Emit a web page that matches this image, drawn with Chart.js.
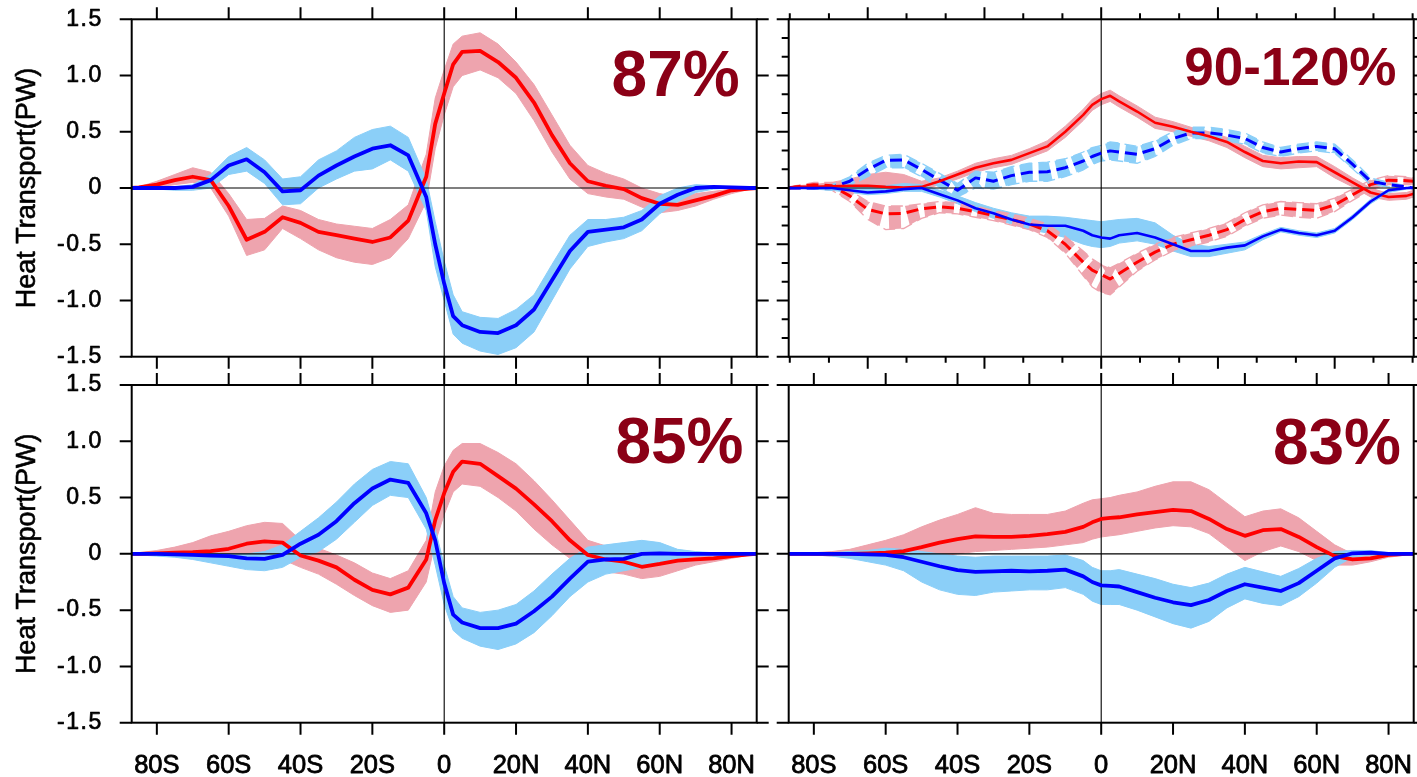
<!DOCTYPE html>
<html>
<head>
<meta charset="utf-8">
<title>Heat Transport</title>
<script src="https://cdn.jsdelivr.net/npm/chart.js@4.4.1/dist/chart.umd.min.js"></script>
<style>
  html, body { margin: 0; padding: 0; background: #fff; }
  #fig { position: relative; width: 1417px; height: 777px; background: #fff; overflow: hidden; }
  #fig canvas { position: absolute; left: 0; top: 0; }
</style>
</head>
<body>
<div id="fig">
  <canvas id="panelA" width="1417" height="777"></canvas>
  <canvas id="panelB" width="1417" height="777"></canvas>
  <canvas id="panelC" width="1417" height="777"></canvas>
  <canvas id="panelD" width="1417" height="777"></canvas>
</div>
<script>
// Latitude grid (degrees; negative = south)
const LAT = [-87,-85,-80,-75,-70,-65,-60,-55,-50,-45,-40,-35,-30,-25,-20,-15,-10,-5,-2.5,0,2.5,5,10,15,20,25,30,35,40,45,50,55,60,65,70,75,80,85,87];

// Axis ticks and labels
const X_TICKS  = [-80,-60,-40,-20,0,20,40,60,80];
const X_LABELS = ['80S','60S','40S','20S','0','20N','40N','60N','80N'];
const Y_TICKS  = [-1.5,-1,-0.5,0,0.5,1,1.5];
const Y_LABELS = ['-1.5','-1.0','-0.5','0','0.5','1.0','1.5'];
const B_X_MAJOR = [-65,-32.5,0,32.5,65];
const B_X_MINOR = [-86.7,-75.8,-54.2,-43.3,-21.7,-10.8,10.8,21.7,43.3,54.2,75.8,86.7];
const B_Y_MINOR = [-1.333,-1.167,-0.833,-0.667,-0.333,-0.167,0.167,0.333,0.667,0.833,1.167,1.333];
const PANEL_TITLES = ['87%','90-120%','85%','83%'];
const Y_TITLE = 'Heat Transport(PW)';

// Panel A (top left): ensemble mean and member spread
const A_RED     = [0,0.005,0.03,0.07,0.10,0.07,-0.16,-0.46,-0.39,-0.26,-0.31,-0.39,-0.42,-0.45,-0.48,-0.44,-0.29,0.1,0.57,0.84,1.10,1.21,1.22,1.12,0.98,0.76,0.47,0.22,0.06,0.02,-0.01,-0.09,-0.14,-0.15,-0.11,-0.07,-0.02,-0.005,0];
const A_RED_LO  = [0,0,0.01,0.03,0.05,0.0,-0.25,-0.60,-0.55,-0.36,-0.45,-0.55,-0.62,-0.66,-0.68,-0.62,-0.45,-0.12,0.35,0.65,0.9,1.0,1.05,0.98,0.84,0.6,0.32,0.08,-0.05,-0.08,-0.1,-0.17,-0.22,-0.2,-0.16,-0.1,-0.05,-0.01,0];
const A_RED_HI  = [0,0.01,0.06,0.12,0.18,0.14,-0.05,-0.28,-0.27,-0.16,-0.20,-0.28,-0.32,-0.34,-0.36,-0.28,-0.15,0.3,0.8,1.05,1.28,1.35,1.38,1.28,1.12,0.92,0.65,0.38,0.2,0.13,0.08,0.0,-0.05,-0.08,-0.05,-0.03,-0.01,0,0];
const A_BLUE    = [0,0,0,0,0.01,0.07,0.2,0.255,0.14,-0.03,-0.02,0.11,0.20,0.28,0.35,0.38,0.29,-0.08,-0.5,-0.85,-1.14,-1.22,-1.28,-1.29,-1.22,-1.08,-0.82,-0.56,-0.39,-0.37,-0.35,-0.28,-0.14,-0.06,0.0,0.01,0.005,0,0];
const A_BLUE_LO = [0,0,-0.01,-0.02,-0.02,0.0,0.12,0.15,0.04,-0.15,-0.14,0.0,0.08,0.15,0.17,0.25,0.15,-0.2,-0.7,-1.0,-1.3,-1.38,-1.45,-1.48,-1.42,-1.28,-1.0,-0.72,-0.52,-0.48,-0.45,-0.38,-0.23,-0.12,-0.04,-0.01,0,0,0];
const A_BLUE_HI = [0,0,0.01,0.01,0.03,0.12,0.28,0.36,0.25,0.08,0.1,0.25,0.33,0.45,0.52,0.55,0.45,0.08,-0.3,-0.65,-0.95,-1.1,-1.15,-1.16,-1.08,-0.95,-0.68,-0.42,-0.28,-0.28,-0.26,-0.2,-0.07,0.0,0.03,0.02,0.01,0,0];

// Panel B (top right): solid and dashed pairs
const B_RED       = [0,0.01,0.01,0.015,0.02,0.02,0.01,0.005,0.01,0.06,0.12,0.18,0.22,0.25,0.31,0.37,0.50,0.65,0.74,0.79,0.82,0.77,0.68,0.58,0.545,0.50,0.46,0.41,0.32,0.24,0.22,0.235,0.23,0.14,0.05,-0.04,-0.08,-0.07,-0.05];
const B_RED_LO    = [0,0,-0.01,-0.01,-0.01,-0.01,-0.02,-0.02,-0.02,0.03,0.08,0.14,0.18,0.21,0.27,0.33,0.45,0.60,0.69,0.74,0.77,0.72,0.63,0.53,0.50,0.46,0.42,0.36,0.27,0.19,0.17,0.18,0.19,0.09,0.01,-0.08,-0.11,-0.10,-0.08];
const B_RED_HI    = [0.01,0.02,0.03,0.05,0.08,0.12,0.14,0.12,0.06,0.09,0.15,0.22,0.26,0.29,0.35,0.42,0.55,0.70,0.79,0.84,0.87,0.82,0.73,0.63,0.59,0.54,0.50,0.45,0.37,0.29,0.27,0.28,0.28,0.19,0.09,0.0,-0.05,-0.04,-0.02];
const B_BLUE      = [0,0,0,0,-0.02,-0.04,-0.03,-0.01,0.0,-0.055,-0.11,-0.18,-0.225,-0.28,-0.325,-0.335,-0.335,-0.38,-0.42,-0.44,-0.45,-0.42,-0.40,-0.44,-0.50,-0.56,-0.56,-0.53,-0.51,-0.43,-0.37,-0.40,-0.42,-0.38,-0.26,-0.12,-0.02,0,0];
const B_BLUE_LO   = [0,0,-0.01,-0.02,-0.04,-0.06,-0.05,-0.03,-0.03,-0.08,-0.14,-0.21,-0.27,-0.32,-0.37,-0.40,-0.44,-0.50,-0.52,-0.53,-0.52,-0.49,-0.47,-0.50,-0.56,-0.61,-0.61,-0.58,-0.55,-0.46,-0.39,-0.42,-0.44,-0.40,-0.28,-0.14,-0.04,-0.01,0];
const B_BLUE_HI   = [0,0.005,0.01,0.01,0.0,0.0,0.02,0.04,0.03,-0.02,-0.07,-0.13,-0.18,-0.22,-0.25,-0.25,-0.26,-0.28,-0.29,-0.30,-0.29,-0.28,-0.27,-0.31,-0.42,-0.50,-0.52,-0.50,-0.48,-0.41,-0.35,-0.38,-0.40,-0.36,-0.24,-0.10,-0.01,0,0];
const B_BLUE_D    = [0,0,0,0.005,0.06,0.165,0.245,0.25,0.165,0.07,-0.02,0.09,0.06,0.11,0.14,0.145,0.18,0.24,0.28,0.31,0.33,0.32,0.30,0.35,0.44,0.49,0.49,0.47,0.44,0.36,0.32,0.35,0.37,0.35,0.21,0.06,0.03,0.01,0];
const B_BLUE_D_LO = [0,0,-0.01,-0.02,0.02,0.10,0.18,0.18,0.10,0.0,-0.08,0.0,-0.01,0.03,0.06,0.06,0.1,0.16,0.21,0.24,0.25,0.24,0.22,0.28,0.38,0.44,0.44,0.42,0.39,0.31,0.28,0.31,0.33,0.31,0.17,0.03,0.01,0,0];
const B_BLUE_D_HI = [0,0.01,0.02,0.03,0.10,0.22,0.29,0.30,0.22,0.13,0.04,0.15,0.14,0.19,0.22,0.23,0.26,0.32,0.36,0.38,0.41,0.40,0.37,0.42,0.50,0.54,0.54,0.52,0.49,0.41,0.36,0.39,0.41,0.39,0.25,0.09,0.05,0.02,0];
const B_RED_D     = [0,0.01,0.03,0.02,-0.07,-0.19,-0.23,-0.225,-0.185,-0.167,-0.18,-0.21,-0.245,-0.28,-0.32,-0.38,-0.50,-0.66,-0.73,-0.77,-0.81,-0.76,-0.66,-0.57,-0.50,-0.46,-0.42,-0.37,-0.28,-0.21,-0.18,-0.19,-0.20,-0.15,-0.06,0.03,0.07,0.065,0.06];
const B_RED_D_LO  = [-0.01,-0.01,0.0,-0.02,-0.12,-0.28,-0.37,-0.36,-0.27,-0.22,-0.23,-0.26,-0.29,-0.33,-0.37,-0.44,-0.58,-0.78,-0.88,-0.93,-0.95,-0.88,-0.74,-0.64,-0.56,-0.52,-0.48,-0.43,-0.34,-0.27,-0.24,-0.26,-0.27,-0.21,-0.11,-0.02,0.03,0.03,0.03];
const B_RED_D_HI  = [0.01,0.02,0.05,0.05,-0.02,-0.12,-0.16,-0.16,-0.14,-0.12,-0.13,-0.16,-0.20,-0.23,-0.27,-0.32,-0.43,-0.56,-0.63,-0.68,-0.71,-0.67,-0.58,-0.50,-0.44,-0.40,-0.36,-0.31,-0.22,-0.15,-0.12,-0.13,-0.14,-0.09,-0.01,0.07,0.11,0.10,0.09];

// Panel C (bottom left)
const C_RED     = [0,0,0.005,0.01,0.015,0.025,0.045,0.09,0.11,0.10,-0.015,-0.06,-0.12,-0.23,-0.32,-0.36,-0.30,-0.05,0.30,0.54,0.73,0.82,0.80,0.69,0.58,0.44,0.29,0.12,-0.01,-0.05,-0.07,-0.115,-0.09,-0.06,-0.05,-0.04,-0.02,-0.005,0];
const C_RED_LO  = [0,0,-0.01,-0.01,-0.02,-0.02,-0.01,0.0,0.02,-0.05,-0.12,-0.18,-0.27,-0.37,-0.46,-0.52,-0.50,-0.25,0.1,0.35,0.55,0.62,0.6,0.5,0.38,0.22,0.08,-0.04,-0.13,-0.16,-0.18,-0.22,-0.2,-0.15,-0.1,-0.07,-0.04,-0.01,0];
const C_RED_HI  = [0,0.01,0.03,0.06,0.1,0.16,0.2,0.25,0.28,0.27,0.12,0.05,-0.01,-0.08,-0.17,-0.22,-0.15,0.12,0.55,0.78,0.92,0.98,0.98,0.9,0.8,0.65,0.48,0.3,0.12,0.07,0.05,0.0,-0.01,-0.01,-0.01,-0.01,0.0,0,0];
const C_BLUE    = [0,0,0,-0.005,-0.01,-0.015,-0.02,-0.04,-0.045,-0.01,0.09,0.17,0.29,0.45,0.58,0.66,0.63,0.36,0.12,-0.26,-0.54,-0.61,-0.66,-0.66,-0.62,-0.51,-0.38,-0.22,-0.07,-0.05,-0.045,0.0,0.005,0,0,0,0,0,0];
const C_BLUE_LO = [0,-0.01,-0.02,-0.03,-0.05,-0.08,-0.11,-0.14,-0.15,-0.12,-0.03,0.02,0.13,0.28,0.43,0.52,0.5,0.22,-0.1,-0.45,-0.68,-0.75,-0.82,-0.85,-0.8,-0.7,-0.55,-0.38,-0.25,-0.18,-0.15,-0.12,-0.08,-0.04,-0.02,-0.01,0,0,0];
const C_BLUE_HI = [0,0,0.0,0.01,0.01,0.01,0.0,0.0,0.02,0.08,0.2,0.32,0.46,0.62,0.75,0.82,0.8,0.5,0.22,-0.1,-0.38,-0.48,-0.52,-0.5,-0.45,-0.33,-0.18,-0.04,0.06,0.08,0.1,0.12,0.1,0.04,0.02,0.01,0,0,0];

// Panel D (bottom right)
const D_RED     = [0,0,0,0,0,0.005,0.01,0.025,0.06,0.10,0.13,0.155,0.15,0.15,0.16,0.175,0.195,0.24,0.28,0.31,0.32,0.325,0.35,0.37,0.39,0.38,0.31,0.22,0.16,0.21,0.22,0.15,0.06,-0.02,-0.05,-0.04,-0.01,0,0];
const D_RED_LO  = [0,0,-0.01,-0.02,-0.03,-0.05,-0.07,-0.08,-0.05,-0.02,0.0,0.02,0.03,0.04,0.05,0.06,0.08,0.1,0.13,0.15,0.16,0.17,0.2,0.23,0.25,0.24,0.18,0.06,-0.06,0.02,0.07,0.02,-0.06,-0.1,-0.1,-0.07,-0.03,-0.01,0];
const D_RED_HI  = [0,0.005,0.01,0.02,0.04,0.08,0.12,0.17,0.24,0.3,0.35,0.41,0.36,0.35,0.35,0.35,0.38,0.45,0.48,0.49,0.5,0.52,0.55,0.6,0.64,0.64,0.57,0.45,0.33,0.38,0.4,0.32,0.2,0.08,0.0,0.0,0.0,0,0];
const D_BLUE    = [0,0,0,0,0,-0.005,-0.01,-0.03,-0.07,-0.11,-0.145,-0.16,-0.155,-0.15,-0.155,-0.15,-0.14,-0.2,-0.25,-0.28,-0.285,-0.29,-0.34,-0.39,-0.43,-0.455,-0.41,-0.33,-0.27,-0.30,-0.33,-0.26,-0.15,-0.04,0.005,0.01,0.0,0,0];
const D_BLUE_LO = [0,0,-0.01,-0.02,-0.04,-0.07,-0.1,-0.15,-0.25,-0.32,-0.36,-0.37,-0.34,-0.33,-0.32,-0.32,-0.3,-0.36,-0.42,-0.45,-0.45,-0.45,-0.5,-0.56,-0.62,-0.66,-0.6,-0.48,-0.4,-0.44,-0.46,-0.38,-0.26,-0.12,-0.03,-0.01,-0.01,0,0];
const D_BLUE_HI = [0,0,0.005,0.01,0.02,0.03,0.05,0.04,0.02,0.0,-0.02,-0.03,-0.02,-0.02,-0.02,-0.02,-0.01,-0.06,-0.12,-0.15,-0.15,-0.14,-0.18,-0.22,-0.27,-0.3,-0.26,-0.18,-0.12,-0.16,-0.2,-0.13,-0.04,0.02,0.03,0.03,0.01,0,0];

// Colours
const RED = '#ff0000', BLUE = '#0000ff';
const PINK = '#eea4ae', SKY = '#8bcff8';
const TITLE_RED = '#8b0016';
const DASH = [12, 6];

const pts = vals => LAT.map((lat, i) => ({ x: lat, y: vals[i] }));

function line(vals, color, width, dash) {
  return { data: pts(vals), borderColor: color, borderWidth: width, borderDash: dash || [],
           pointRadius: 0, tension: 0, fill: false, borderJoinStyle: 'round' };
}
function band(lo, hi, color) {
  return [
    { data: pts(lo), borderColor: color, borderWidth: 1, pointRadius: 0, tension: 0, fill: false },
    { data: pts(hi), borderColor: color, borderWidth: 1, pointRadius: 0, tension: 0, fill: '-1', backgroundColor: color }
  ];
}
function dashedBand(lo, mid, hi, color) {
  return [
    { data: pts(lo), borderColor: color, borderWidth: 1.3, borderDash: DASH, pointRadius: 0, tension: 0, fill: false },
    { data: pts(hi), borderColor: color, borderWidth: 1.3, borderDash: DASH, pointRadius: 0, tension: 0, fill: false,
      dashBand: { lo: lo, mid: mid, color: color } }
  ];
}

// Text with a hairline outline so it reads a little heavier
function heavyText(ctx, text, x, y, weight) {
  ctx.lineWidth = weight;
  ctx.strokeStyle = ctx.fillStyle;
  ctx.lineJoin = 'round';
  ctx.strokeText(text, x, y);
  ctx.fillText(text, x, y);
}

// Frame, ticks, labels and zero lines for one panel
function framePlugin(cfg) {
  return {
    id: 'frame',
    beforeDatasetDraw(chart, args) {
      const ds = chart.data.datasets[args.index];
      const { ctx, chartArea: a, scales: { x, y } } = chart;
      if (ds.dashBand) {
        // dashed ensemble members: a band cut into dashes that follow the mean curve
        const b = ds.dashBand, hi = ds.data;
        ctx.save();
        ctx.beginPath();
        ctx.rect(a.left, a.top, a.width, a.height);
        ctx.clip();
        ctx.beginPath();
        hi.forEach((p, i) => {
          const px = x.getPixelForValue(p.x), py = y.getPixelForValue(p.y);
          i ? ctx.lineTo(px, py) : ctx.moveTo(px, py);
        });
        for (let i = LAT.length - 1; i >= 0; i--) {
          ctx.lineTo(x.getPixelForValue(LAT[i]), y.getPixelForValue(b.lo[i]));
        }
        ctx.closePath();
        ctx.clip();
        ctx.beginPath();
        LAT.forEach((lat, i) => {
          const px = x.getPixelForValue(lat), py = y.getPixelForValue(b.mid[i]);
          i ? ctx.lineTo(px, py) : ctx.moveTo(px, py);
        });
        ctx.lineWidth = 90;
        ctx.lineCap = 'butt';
        ctx.lineJoin = 'round';
        ctx.setLineDash(DASH);
        ctx.strokeStyle = b.color;
        ctx.stroke();
        ctx.restore();
      }
      if (args.index === cfg.zeroBelow) {
        const y0 = y.getPixelForValue(0), x0 = x.getPixelForValue(0);
        ctx.save();
        ctx.strokeStyle = '#000';
        ctx.lineWidth = 1.1;
        ctx.beginPath();
        ctx.moveTo(a.left, y0); ctx.lineTo(a.right, y0);
        ctx.moveTo(x0, a.top); ctx.lineTo(x0, a.bottom);
        ctx.stroke();
        ctx.restore();
      }
    },
    afterDraw(chart) {
      const { ctx, chartArea: a, scales: { x, y } } = chart;
      ctx.save();
      ctx.strokeStyle = '#000';
      ctx.lineWidth = 2;
      ctx.setLineDash([]);
      ctx.strokeRect(a.left, a.top, a.width, a.height);

      const tickX = (vals, len) => vals.forEach(v => {
        const px = x.getPixelForValue(v);
        ctx.moveTo(px, a.top); ctx.lineTo(px, a.top - len);
        ctx.moveTo(px, a.bottom); ctx.lineTo(px, a.bottom + len);
      });
      const tickY = (vals, len) => vals.forEach(v => {
        const py = y.getPixelForValue(v);
        ctx.moveTo(a.left, py); ctx.lineTo(a.left - len, py);
        ctx.moveTo(a.right, py); ctx.lineTo(a.right + len, py);
      });
      ctx.beginPath();
      tickX(cfg.xMajor, 12);
      tickY(Y_TICKS, 12);
      if (cfg.xMinor) tickX(cfg.xMinor, 6);
      if (cfg.yMinor) tickY(cfg.yMinor, 7);
      ctx.stroke();

      ctx.fillStyle = '#000';
      if (cfg.yLabels) {
        ctx.font = '23px "Liberation Sans", Arial, sans-serif';
        ctx.letterSpacing = '1.5px';
        ctx.textAlign = 'right';
        ctx.textBaseline = 'middle';
        Y_TICKS.forEach((v, i) => heavyText(ctx, Y_LABELS[i], a.left - 29, y.getPixelForValue(v), 0.7));
        ctx.letterSpacing = '0px';
        ctx.save();
        ctx.translate(35, (a.top + a.bottom) / 2);
        ctx.rotate(-Math.PI / 2);
        ctx.font = '27px "Liberation Sans", Arial, sans-serif';
        ctx.textAlign = 'center';
        ctx.textBaseline = 'alphabetic';
        heavyText(ctx, Y_TITLE, 0, 0, 0.6);
        ctx.restore();
      }
      if (cfg.xLabels) {
        ctx.font = '25.5px "Liberation Sans", Arial, sans-serif';
        ctx.textAlign = 'center';
        ctx.textBaseline = 'alphabetic';
        X_TICKS.forEach((v, i) => heavyText(ctx, X_LABELS[i], x.getPixelForValue(v), a.bottom + 50.6, 0.8));
      }
      ctx.font = 'bold ' + cfg.titleSize + 'px "Liberation Sans", Arial, sans-serif';
      ctx.fillStyle = TITLE_RED;
      ctx.textAlign = 'right';
      ctx.textBaseline = 'alphabetic';
      ctx.fillText(cfg.title, a.right - cfg.titleInset, a.top + cfg.titleDrop);
      ctx.restore();
    }
  };
}

function makePanel(id, datasets, area, cfg) {
  return new Chart(document.getElementById(id), {
    type: 'line',
    data: { datasets: datasets },
    options: {
      responsive: false,
      animation: false,
      events: [],
      layout: { padding: { left: area.left, top: area.top, right: 1417 - area.right, bottom: 777 - area.bottom } },
      scales: {
        x: { type: 'linear', min: -87, max: 87, display: false },
        y: { type: 'linear', min: -1.5, max: 1.5, display: false }
      },
      plugins: { legend: { display: false }, tooltip: { enabled: false } }
    },
    plugins: [framePlugin(cfg)]
  });
}

const LEFT = { left: 131.7, right: 756.7 }, RIGHT = { left: 788.7, right: 1413.7 };
const TOP = { top: 19.3, bottom: 356.7 }, BOTTOM = { top: 385, bottom: 722.7 };

makePanel('panelA', [
  line(A_BLUE, BLUE, 3.8), line(A_RED, RED, 3.8),
  ...band(A_BLUE_LO, A_BLUE_HI, SKY), ...band(A_RED_LO, A_RED_HI, PINK)
], { ...LEFT, ...TOP }, { zeroBelow: 1, xMajor: X_TICKS, yLabels: true, title: PANEL_TITLES[0], titleSize: 64, titleInset: 17, titleDrop: 76.7 });

makePanel('panelB', [
  line(B_BLUE, BLUE, 2.6), line(B_RED, RED, 2.6), line(B_BLUE_D, BLUE, 3, DASH), line(B_RED_D, RED, 3, DASH),
  ...dashedBand(B_BLUE_D_LO, B_BLUE_D, B_BLUE_D_HI, SKY), ...dashedBand(B_RED_D_LO, B_RED_D, B_RED_D_HI, PINK),
  ...band(B_BLUE_LO, B_BLUE_HI, SKY), ...band(B_RED_LO, B_RED_HI, PINK)
], { ...RIGHT, ...TOP }, { zeroBelow: 3, xMajor: B_X_MAJOR, xMinor: B_X_MINOR, yMinor: B_Y_MINOR, title: PANEL_TITLES[1], titleSize: 53, titleInset: 17.2, titleDrop: 65.7 });

makePanel('panelC', [
  line(C_BLUE, BLUE, 3.8), line(C_RED, RED, 3.8),
  ...band(C_BLUE_LO, C_BLUE_HI, SKY), ...band(C_RED_LO, C_RED_HI, PINK)
], { ...LEFT, ...BOTTOM }, { zeroBelow: 1, xMajor: X_TICKS, yLabels: true, xLabels: true, title: PANEL_TITLES[2], titleSize: 64, titleInset: 13.2, titleDrop: 78.3 });

makePanel('panelD', [
  line(D_BLUE, BLUE, 3.8), line(D_RED, RED, 3.8),
  ...band(D_BLUE_LO, D_BLUE_HI, SKY), ...band(D_RED_LO, D_RED_HI, PINK)
], { ...RIGHT, ...BOTTOM }, { zeroBelow: 1, xMajor: X_TICKS, xLabels: true, title: PANEL_TITLES[3], titleSize: 64, titleInset: 12.7, titleDrop: 79 });
</script>
</body>
</html>
